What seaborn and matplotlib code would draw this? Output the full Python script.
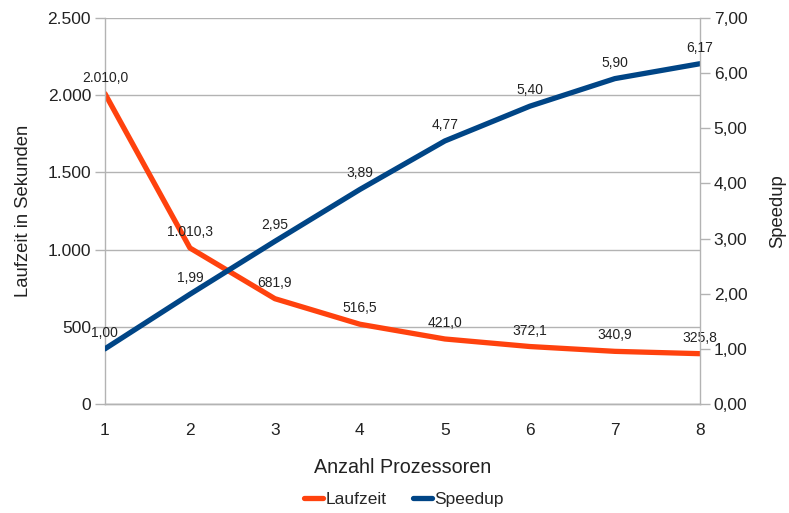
import numpy as np
import pandas as pd
import seaborn as sns
import matplotlib.pyplot as plt
from matplotlib.ticker import FuncFormatter, MultipleLocator

# Daten
prozessoren = [1, 2, 3, 4, 5, 6, 7, 8]
laufzeit = [2010.0, 1010.3, 681.9, 516.5, 421.0, 372.1, 340.9, 325.8]
speedup = [1.00, 1.99, 2.95, 3.89, 4.77, 5.40, 5.90, 6.17]

df = pd.DataFrame({'Prozessoren': prozessoren, 'Laufzeit': laufzeit, 'Speedup': speedup})

sns.set_style('white')
plt.rcParams['font.family'] = ['Liberation Sans', 'DejaVu Sans']

orange = '#FF420E'
blau = '#004586'
grau = '#b3b3b3'


def de_zahl(v, stellen):
    s = f"{v:,.{stellen}f}"
    return s.replace(',', 'X').replace('.', ',').replace('X', '.')


fig = plt.figure(figsize=(7.89, 5.13), dpi=100)
ax = fig.add_axes([0.133, 0.2125, 0.754, 0.7525])
ax2 = ax.twinx()

sns.lineplot(data=df, x='Prozessoren', y='Laufzeit', ax=ax, color=orange,
             linewidth=3.8, label='Laufzeit', legend=False, solid_joinstyle='round')
sns.lineplot(data=df, x='Prozessoren', y='Speedup', ax=ax2, color=blau,
             linewidth=3.8, label='Speedup', legend=False, solid_joinstyle='round')

ax.set_xlim(1, 8)
ax.set_ylim(0, 2500)
ax2.set_ylim(0, 7)
ax.yaxis.set_major_locator(MultipleLocator(500))
ax2.yaxis.set_major_locator(MultipleLocator(1))
ax.yaxis.set_major_formatter(FuncFormatter(lambda v, p: de_zahl(v, 0)))
ax2.yaxis.set_major_formatter(FuncFormatter(lambda v, p: de_zahl(v, 2)))

ax.grid(axis='y', color=grau, linewidth=1)
ax.set_axisbelow(True)

for a in (ax, ax2):
    a.spines['top'].set_visible(False)
    for s in ('left', 'right', 'bottom'):
        a.spines[s].set_color(grau)
        a.spines[s].set_linewidth(1)
    a.tick_params(labelcolor='#222222', labelsize=12.5,
                  length=7, width=1, direction='out', pad=3)
ax.tick_params(axis='both', color=grau)
ax.tick_params(axis='x', pad=7)
ax2.tick_params(axis='y', color=grau)
ax.spines['right'].set_visible(False)
ax2.spines['left'].set_visible(False)

ax.set_xlabel('Anzahl Prozessoren', fontsize=14.2, labelpad=14, color='#222222')
ax.set_ylabel('Laufzeit in Sekunden', fontsize=13.3, labelpad=11, color='#222222')
ax2.set_ylabel('Speedup', fontsize=13.3, labelpad=16, color='#222222')

for x, y in zip(prozessoren, laufzeit):
    ax.annotate(de_zahl(y, 1), (x, y), xytext=(0, 11.5), textcoords='offset points',
                ha='center', va='center', fontsize=10, color='#222222')
for x, y in zip(prozessoren, speedup):
    ax2.annotate(de_zahl(y, 2), (x, y), xytext=(0, 11.5), textcoords='offset points',
                 ha='center', va='center', fontsize=10, color='#222222')

h1, l1 = ax.get_legend_handles_labels()
h2, l2 = ax2.get_legend_handles_labels()
fig.legend(h1 + h2, l1 + l2, loc='center', bbox_to_anchor=(0.512, 0.027), ncol=2,
           frameon=False, fontsize=12.5, handlelength=1.1, handletextpad=0.15,
           columnspacing=1.5)

fig.savefig('out.png', dpi=100)
